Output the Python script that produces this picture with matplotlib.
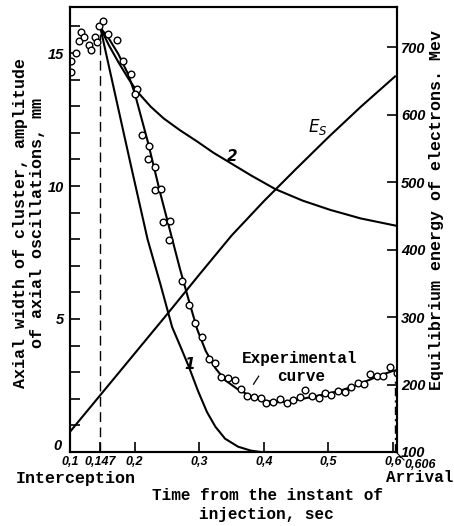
import matplotlib
matplotlib.use("Agg")
import matplotlib.pyplot as plt
from matplotlib.ticker import FixedLocator
from matplotlib.lines import Line2D

# ---- data ----
# experimental points: time (s), axial width (mm)
exp_t = [0.101, 0.102, 0.110, 0.114, 0.117, 0.122, 0.129, 0.133, 0.138, 0.141,
         0.145, 0.151, 0.159, 0.172, 0.182, 0.195, 0.203, 0.200,
         0.212, 0.222, 0.221, 0.232, 0.231, 0.241, 0.244, 0.254, 0.253,
         0.274, 0.284, 0.293, 0.304, 0.315, 0.324, 0.334, 0.345, 0.355,
         0.364, 0.374, 0.384, 0.395, 0.404, 0.414, 0.425, 0.436, 0.445,
         0.456, 0.464, 0.475, 0.485, 0.494, 0.504, 0.515, 0.525, 0.535,
         0.545, 0.555, 0.565, 0.575, 0.585, 0.595, 0.606]
exp_mm = [14.3, 14.7, 15.0, 15.45, 15.8, 15.6, 15.3, 15.1, 15.6, 15.4,
          16.0, 16.2, 15.7, 15.5, 14.7, 14.2, 13.65, 13.45,
          11.9, 11.5, 11.0, 10.7, 9.85, 9.9, 8.66, 8.7, 7.97,
          6.44, 5.53, 4.84, 4.31, 3.5, 3.33, 2.83, 2.8, 2.7,
          2.36, 2.12, 2.08, 2.02, 1.83, 1.89, 1.98, 1.83, 1.95,
          2.06, 2.33, 2.1, 2.02, 2.2, 2.14, 2.29, 2.27, 2.43,
          2.6, 2.56, 2.93, 2.86, 2.87, 3.18, 2.98]

# experimental curve (line)
expc_t = [0.147, 0.16, 0.175, 0.19, 0.20, 0.22, 0.24, 0.255, 0.27, 0.285, 0.297,
          0.31, 0.325, 0.34, 0.36, 0.38, 0.40, 0.42, 0.44, 0.46, 0.48, 0.50,
          0.52, 0.54, 0.56, 0.58, 0.60, 0.606]
expc_mm = [15.95, 15.55, 14.95, 14.2, 13.5, 11.7, 9.7, 8.3, 6.9, 5.6, 4.6,
           3.8, 3.15, 2.7, 2.35, 2.1, 1.93, 1.87, 1.9, 2.0, 2.1, 2.2,
           2.32, 2.48, 2.68, 2.88, 3.05, 3.08]

# theoretical curve 1
c1_t = [0.147, 0.178, 0.194, 0.22, 0.24, 0.258, 0.272, 0.284, 0.298, 0.312,
        0.325, 0.34, 0.36, 0.38, 0.395]
c1_mm = [15.95, 12.55, 10.8, 8.0, 6.3, 4.7, 3.9, 3.2, 2.3, 1.5,
         0.95, 0.5, 0.2, 0.05, 0.0]

# theoretical curve 2
c2_t = [0.147, 0.16, 0.175, 0.19, 0.204, 0.225, 0.245, 0.27, 0.297, 0.322,
        0.348, 0.38, 0.418, 0.46, 0.503, 0.55, 0.606]
c2_mm = [15.95, 15.3, 14.65, 14.05, 13.55, 12.98, 12.54, 12.1, 11.67, 11.25,
         10.87, 10.4, 9.88, 9.45, 9.1, 8.78, 8.5]

# equilibrium energy Es (MeV)
es_t = [0.1, 0.15, 0.2, 0.25, 0.3, 0.35, 0.4, 0.45, 0.5, 0.55, 0.603]
es_mev = [130, 188, 246, 304, 363, 421, 472, 520, 567, 612, 657]

x_ticks = [0.1, 0.147, 0.2, 0.3, 0.4, 0.5, 0.6]
x_labels = ["0,1", "0,147", "0,2", "0,3", "0,4", "0,5", "0,6"]
y_left_labels = [5, 10, 15]
y_right_labels = [200, 300, 400, 500, 600, 700]

# ---- figure ----
W, H = 454, 526
fig = plt.figure(figsize=(W / 100, H / 100), dpi=100)
ax = fig.add_axes([0.1542, 0.1407, 0.7202, 0.846])
ax2 = ax.twinx()

lw = 1.5
ax.plot(expc_t, expc_mm, color="black", lw=1.5, zorder=3)
ax.plot(exp_t, exp_mm, linestyle="none", marker="o", ms=4.8, mfc="white",
        mec="black", mew=1.0, zorder=4)
ax.plot(c1_t, c1_mm, color="black", lw=lw, zorder=3)
ax.plot(c2_t, c2_mm, color="black", lw=lw, zorder=3)
ax2.plot(es_t, es_mev, color="black", lw=lw)

# vertical guide lines
ax.plot([0.147, 0.147], [0, 15.7], color="black", lw=1.0,
        linestyle=(0, (7, 4)), zorder=2)
ax.plot([0.603, 0.603], [0, 2.8], color="black", lw=1.0,
        linestyle=(0, (6, 3, 1.5, 3)), zorder=2)
# leader for "Experimental curve"
ax.plot([0.384, 0.392], [2.55, 2.85], color="black", lw=0.9)

ax.set_xlim(0.1, 0.606)
ax.set_ylim(0, 16.73)
ax2.set_ylim(100, 760)

# ticks
ax.xaxis.set_major_locator(FixedLocator(x_ticks))
ax.set_xticklabels(x_labels)
ax.yaxis.set_major_locator(FixedLocator(list(range(0, 17))))
ax.set_yticklabels([str(v) if v in y_left_labels else "" for v in range(0, 17)])
ax2.yaxis.set_major_locator(FixedLocator([100] + y_right_labels))
ax2.set_yticklabels(["100"] + [str(v) for v in y_right_labels])

ax.tick_params(axis="x", direction="in", length=7, width=1.2, pad=3)
ax.tick_params(axis="y", direction="in", length=7, width=1.2, pad=4)
ax2.tick_params(axis="y", direction="in", length=7, width=1.2, pad=3)
tick_fam = "Liberation Sans"
for lab in ax.get_xticklabels():
    lab.set_fontfamily(tick_fam)
    lab.set_fontstyle("italic")
    lab.set_fontweight("bold")
    lab.set_fontsize(9)
for lab in ax.get_yticklabels() + ax2.get_yticklabels():
    lab.set_fontfamily(tick_fam)
    lab.set_fontstyle("italic")
    lab.set_fontweight("bold")
    lab.set_fontsize(10.5)
# origin label, placed above-left of the corner as in the original
fig.text(57 / W, 1 - 446 / H, "0", fontsize=10.5, fontstyle="italic",
         fontweight="bold", family=tick_fam, ha="center", va="center")
# separate label for the end time
fig.text(404 / W, 1 - 465 / H, "0,606", fontsize=9, fontstyle="italic",
         fontweight="bold", family=tick_fam, ha="left", va="center")
fig.add_artist(Line2D([397 / W, 404 / W], [1 - 453 / H, 1 - 460 / H],
                      color="black", lw=0.8))

for sp in list(ax.spines.values()) + list(ax2.spines.values()):
    sp.set_linewidth(1.5)

mono = dict(family="Liberation Mono", weight="bold")
fig.text(29 / W, 1 - 223 / H,
         "Axial width of cluster, amplitude\nof axial oscillations, mm",
         rotation=90, ha="center", va="center", multialignment="center",
         fontsize=12, linespacing=1.1, **mono)
fig.text(437 / W, 1 - 210 / H, "Equilibrium energy of electrons. Mev",
         rotation=90, ha="center", va="center", fontsize=12, **mono)

fig.text(76 / W, 1 - 478 / H, "Interception", ha="center", va="center",
         fontsize=12, **mono)
fig.text(420 / W, 1 - 478 / H, "Arrival", ha="center", va="center",
         fontsize=11.5, **mono)
fig.text(267 / W, 1 - 496 / H, "Time from the instant of", ha="center",
         va="center", fontsize=11.5, **mono)
fig.text(266 / W, 1 - 514 / H, "injection, sec", ha="center",
         va="center", fontsize=11.5, **mono)

ax.text(0.455, 3.53, "Experimental", ha="center", va="center", fontsize=11.5, **mono)
ax.text(0.457, 2.82, "curve", ha="center", va="center", fontsize=11.5, **mono)

ax.text(0.285, 3.3, "1", fontsize=11, fontstyle="italic", fontweight="bold",
        ha="center", va="center")
ax.text(0.351, 11.1, "2", fontsize=11, fontstyle="italic", fontweight="bold",
        ha="center", va="center")
ax.text(0.483, 12.2, r"$\mathit{E_S}$", fontsize=12, ha="center", va="center")

fig.savefig("out.png", dpi=100)
